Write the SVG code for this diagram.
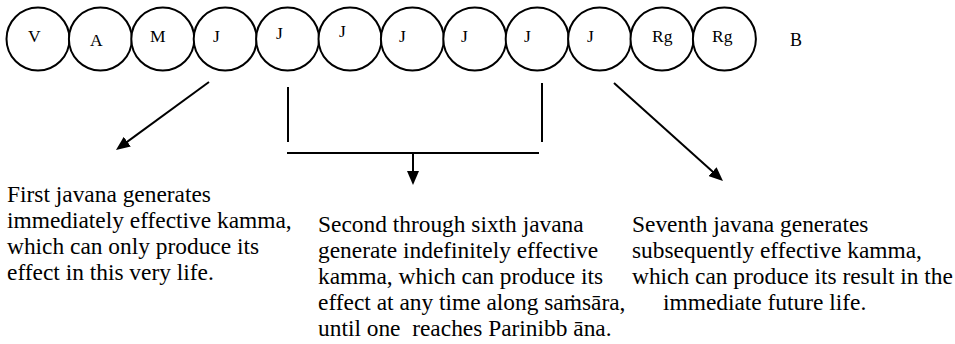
<svg xmlns="http://www.w3.org/2000/svg" width="955" height="344" viewBox="0 0 955 344">
<style>
.c{fill:#fff;stroke:#000;stroke-width:2}
.k{stroke:#000;stroke-width:2;fill:none}
</style>
<defs>
<marker id="ah" markerUnits="userSpaceOnUse" markerWidth="15" markerHeight="12" refX="10" refY="6" orient="auto">
<path d="M0,0 L14,6 L0,12 z" fill="#000"/>
</marker>
</defs>
<rect width="955" height="344" fill="#fff"/>
<g font-family="Liberation Serif, Times New Roman, DejaVu Serif, serif" font-size="17.5" fill="#000">
<g id="n1"><circle class="c" cx="38" cy="39" r="31.5"/><text x="28" y="42">V</text></g>
<g id="n2"><circle class="c" cx="100.4" cy="39" r="31.5"/><text x="90" y="46">A</text></g>
<g id="n3"><circle class="c" cx="162.8" cy="39" r="31.5"/><text x="150" y="42">M</text></g>
<g id="n4"><circle class="c" cx="225.2" cy="39" r="31.5"/><text x="213" y="42">J</text></g>
<g id="n5"><circle class="c" cx="287.6" cy="39" r="31.5"/><text x="276" y="39">J</text></g>
<g id="n6"><circle class="c" cx="350" cy="39" r="31.5"/><text x="339" y="37">J</text></g>
<g id="n7"><circle class="c" cx="412.4" cy="39" r="31.5"/><text x="399" y="42">J</text></g>
<g id="n8"><circle class="c" cx="474.8" cy="39" r="31.5"/><text x="461" y="42">J</text></g>
<g id="n9"><circle class="c" cx="537.2" cy="39" r="31.5"/><text x="524" y="42">J</text></g>
<g id="n10"><circle class="c" cx="599.6" cy="39" r="31.5"/><text x="587" y="42">J</text></g>
<g id="n11"><circle class="c" cx="662" cy="39" r="31.5"/><text x="652" y="42">Rg</text></g>
<g id="n12"><circle class="c" cx="724.4" cy="39" r="31.5"/><text x="712" y="42">Rg</text></g>
<g id="nB"><text x="790" y="46" font-size="18">B</text></g>
</g>
<g id="connectors">
<line class="k" x1="209" y1="82" x2="119.2" y2="147.6" marker-end="url(#ah)"/>
<line class="k" x1="288" y1="87" x2="288" y2="142"/>
<line class="k" x1="542" y1="83" x2="542" y2="142"/>
<line class="k" x1="287" y1="153" x2="539" y2="153"/>
<line class="k" x1="413" y1="153" x2="413" y2="181" marker-end="url(#ah)"/>
<line class="k" x1="614" y1="83" x2="720" y2="178.3" marker-end="url(#ah)"/>
</g>
<g font-family="Liberation Serif, Times New Roman, DejaVu Serif, serif" font-size="23.4" fill="#000">
<g id="text-first">
<text x="7" y="202">First javana generates</text>
<text x="7" y="228">immediately effective kamma,</text>
<text x="7" y="254">which can only produce its</text>
<text x="7" y="280">effect in this very life.</text>
</g>
<g id="text-middle">
<text x="318" y="232">Second through sixth javana</text>
<text x="318" y="258">generate indefinitely effective</text>
<text x="318" y="284">kamma, which can produce its</text>
<text x="318" y="310">effect at any time along saṁsāra,</text>
<text x="318" y="336" xml:space="preserve">until one  reaches Parinibb āna.</text>
</g>
<g id="text-seventh">
<text x="632" y="232">Seventh javana generates</text>
<text x="632" y="258">subsequently effective kamma,</text>
<text x="632" y="284">which can produce its result in the</text>
<text x="663" y="310">immediate future life.</text>
</g>
</g>
</svg>
